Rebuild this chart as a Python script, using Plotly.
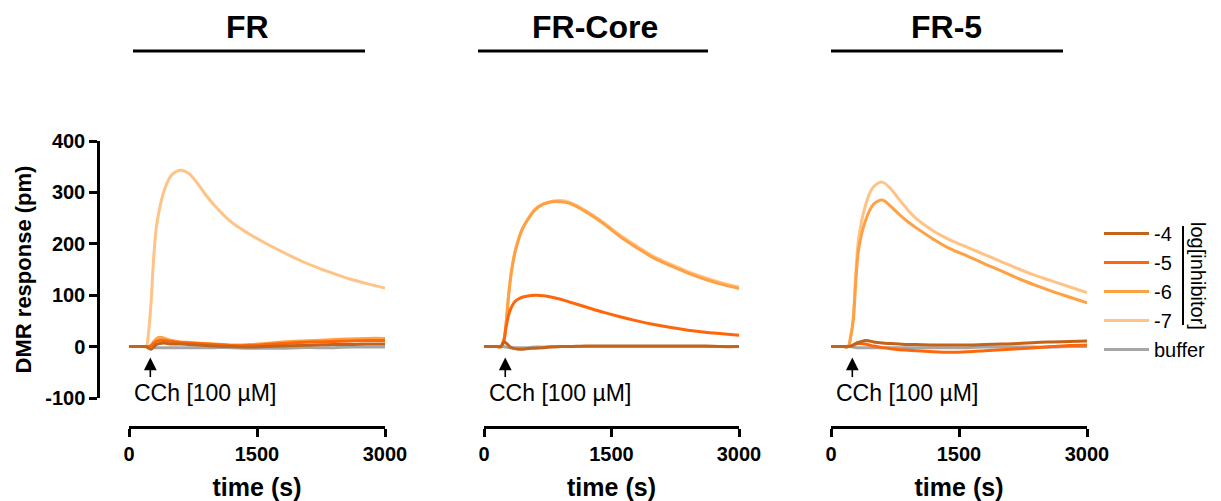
import plotly.graph_objects as go

W, H = 1221, 501

# Sampling times (s) shared by all traces
time_s = [0, 150, 200, 230, 260, 290, 320, 360, 400, 450, 500, 600, 700, 800,
          900, 1000, 1200, 1400, 1600, 1800, 2000, 2200, 2400, 2600, 2800, 3000]

panel_titles = ["FR", "FR-Core", "FR-5"]
series_names = ["-4", "-5", "-6", "-7", "buffer"]

# DMR response (pm) per panel and inhibitor concentration
fr_m4 = [0, 0, 0, -3, -5, -1, 4, 6, 7, 6, 5, 5, 4, 3, 2, 1, 0, -1, 0, 1, 2, 3, 4, 4, 5, 5]
fr_m5 = [0, 0, 0, 0, 2, 6, 10, 12, 12, 11, 10, 8, 7, 6, 5, 4, 2, 2, 4, 6, 8, 9, 10, 11, 12, 12]
fr_m6 = [0, 0, 0, 0, 3, 10, 15, 18, 17, 14, 12, 9, 8, 7, 6, 5, 3, 4, 6, 9, 11, 12, 14, 15, 16, 16]
fr_m7 = [0, 0, 0, 30, 90, 175, 232, 270, 297, 320, 334, 343, 337, 318, 295, 275, 242, 220,
         201, 184, 168, 154, 142, 131, 122, 114]
fr_buf = [0, 0, 0, 0, -1, -2, -2, -2, -2, -2, -2, -2, -2, -2, -2, -2, -2, -3, -3, -3, -2, -2,
          -2, -1, -1, -1]

core_m4 = [0, 0, 0, 9, 7, 2, -2, -4, -5, -5, -4, -3, -2, -1, 0, 0, 1, 1, 1, 1, 1, 1, 1, 1, 0, 0]
core_m5 = [0, 0, 0, 10, 38, 62, 76, 87, 92, 96, 98, 100, 99, 96, 92, 87, 77, 67, 58, 50, 43,
           37, 32, 28, 25, 22]
core_m6 = [0, 0, 0, 8, 45, 100, 142, 180, 205, 228, 243, 266, 277, 282, 282, 279, 262, 240,
           214, 192, 172, 157, 143, 131, 121, 113]
core_m7 = [0, 0, 0, 8, 46, 102, 144, 181, 206, 229, 244, 267, 278, 283, 284, 281, 264, 242,
           217, 195, 175, 160, 146, 134, 124, 116]
core_buf = [0, 0, 0, 0, -1, -2, -2, -2, -2, -2, -2, -1, -1, 0, 0, 0, 0, 0, 0, 0, 0, 0, 0, 0, 0, 0]

fr5_m4 = [0, 0, 0, 1, 3, 6, 8, 10, 12, 11, 9, 7, 6, 5, 4, 4, 3, 3, 3, 4, 5, 6, 8, 9, 10, 11]
fr5_m5 = [0, 0, 0, 1, 3, 5, 6, 6, 5, 3, 1, -2, -4, -6, -7, -8, -10, -11, -10, -8, -6, -4, -2,
          0, 2, 3]
fr5_m6 = [0, 0, 0, 18, 50, 125, 185, 220, 243, 264, 277, 285, 273, 257, 243, 231, 209, 190,
          176, 161, 147, 132, 119, 107, 96, 85]
fr5_m7 = [0, 0, 0, 20, 55, 140, 205, 245, 272, 297, 311, 320, 307, 286, 266, 249, 225, 207,
          193, 179, 165, 151, 138, 127, 116, 105]
fr5_buf = [0, 0, 0, 0, -1, -2, -2, -2, -2, -2, -2, -2, -2, -2, -2, -2, -2, -2, -2, -1, -1, -1,
           -1, -1, 0, 0]

panels = [
    {"-4": fr_m4, "-5": fr_m5, "-6": fr_m6, "-7": fr_m7, "buffer": fr_buf},
    {"-4": core_m4, "-5": core_m5, "-6": core_m6, "-7": core_m7, "buffer": core_buf},
    {"-4": fr5_m4, "-5": fr5_m5, "-6": fr5_m6, "-7": fr5_m7, "buffer": fr5_buf},
]

colors = {"-4": "#C4631A", "-5": "#FF660A", "-6": "#FFA043", "-7": "#FFC385", "buffer": "#A6A6A6"}
draw_order = ["buffer", "-7", "-6", "-5", "-4"]
legend_rank = {"-4": 1, "-5": 2, "-6": 3, "-7": 4, "buffer": 5}

x_tick_vals = [0, 1500, 3000]
y_tick_vals = [-100, 0, 100, 200, 300, 400]
cch_time = 250

FONT = "Arial, Liberation Sans, sans-serif"

# pixel layout helpers
def px(x):
    return x / W

def py(y):
    return 1 - y / H

x_domains = [(129, 385), (484, 739), (831, 1087)]
title_centers = [248, 595, 946]
title_bars = [(133, 365), (478, 708), (831, 1063)]

fig = go.Figure()

for i, data in enumerate(panels):
    xa = "x" if i == 0 else f"x{i+1}"
    ya = "y" if i == 0 else f"y{i+1}"
    for name in draw_order:
        fig.add_trace(go.Scatter(
            x=time_s, y=data[name], mode="lines", name=name,
            line=dict(color=colors[name], width=3, shape="spline", smoothing=0.9),
            xaxis=xa, yaxis=ya, showlegend=(i == 0), legendrank=legend_rank[name],
            hoverinfo="skip",
        ))

axis_common = dict(
    showline=True, linecolor="black", linewidth=2.5, ticks="outside", ticklen=8,
    tickwidth=2.5, tickcolor="black", showgrid=False, zeroline=False,
    tickfont=dict(family=FONT, size=20, color="black"),
)

layout = dict(
    width=W, height=H, margin=dict(l=0, r=0, t=0, b=0),
    paper_bgcolor="white", plot_bgcolor="white", template="none",
    showlegend=True,
    legend=dict(
        x=px(1099), y=py(214), xanchor="left", yanchor="top",
        font=dict(family=FONT, size=20, color="black"),
        bgcolor="rgba(0,0,0,0)", traceorder="normal", itemwidth=45,
    ),
)

for i, (x0, x1) in enumerate(x_domains):
    key = "xaxis" if i == 0 else f"xaxis{i+1}"
    ykey = "yaxis" if i == 0 else f"yaxis{i+1}"
    layout[key] = dict(
        domain=[px(x0), px(x1)], range=[0, 3000], anchor="free", position=py(427),
        tickvals=x_tick_vals, ticktext=[f"<b>{v}</b>" for v in x_tick_vals],
        title=dict(text="<b>time (s)</b>", font=dict(family=FONT, size=25, color="black"),
                   standoff=15),
        **axis_common,
    )
    if i == 0:
        layout[ykey] = dict(
            domain=[py(398), py(141)], range=[-100, 400], anchor="free", position=px(98),
            tickvals=y_tick_vals, ticktext=[f"<b>{v}</b>" for v in y_tick_vals],
            title=dict(text="<b>DMR response (pm)</b>",
                       font=dict(family=FONT, size=22, color="black"),
                       standoff=6),
            **axis_common,
        )
    else:
        layout[ykey] = dict(domain=[py(398), py(141)], range=[-100, 400], anchor=f"x{i+1}",
                            visible=False)

fig.update_layout(**layout)

annotations = []
shapes = []
for i in range(3):
    xr = "x" if i == 0 else f"x{i+1}"
    yr = "y" if i == 0 else f"y{i+1}"
    annotations.append(dict(
        text=f"<b>{panel_titles[i]}</b>", x=px(title_centers[i]), y=py(27),
        xref="paper", yref="paper", showarrow=False, xanchor="center", yanchor="middle",
        font=dict(family=FONT, size=32, color="black"),
    ))
    bx0, bx1 = title_bars[i]
    shapes.append(dict(type="line", xref="paper", yref="paper", x0=px(bx0), x1=px(bx1),
                       y0=py(51), y1=py(51), line=dict(color="black", width=3)))
    # agonist addition marker
    annotations.append(dict(
        text="", x=cch_time, y=-21, xref=xr, yref=yr, showarrow=True,
        ax=0, ay=21, axref="pixel", ayref="pixel",
        arrowhead=2, arrowsize=1.6, arrowwidth=1.6, arrowcolor="black",
    ))
    annotations.append(dict(
        text="CCh [100 µM]", x=35, y=-91, xref=xr, yref=yr, showarrow=False,
        xanchor="left", yanchor="middle",
        font=dict(family=FONT, size=23, color="black"),
    ))

# bracket and label beside the concentration entries of the legend
shapes.append(dict(type="line", xref="paper", yref="paper", x0=px(1183), x1=px(1183),
                   y0=py(226), y1=py(325), line=dict(color="black", width=2)))
annotations.append(dict(
    text="log[inhibitor]", x=px(1198), y=py(276), xref="paper", yref="paper",
    showarrow=False, textangle=90, xanchor="center", yanchor="middle",
    font=dict(family=FONT, size=20, color="black"),
))

fig.update_layout(annotations=annotations, shapes=shapes)
fig.write_html("out.html")
